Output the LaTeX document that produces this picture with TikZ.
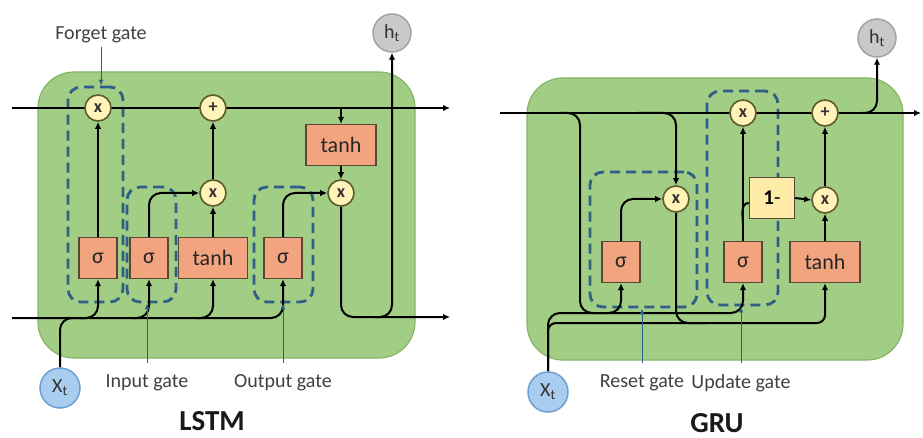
\documentclass[tikz,border=0pt]{standalone}
\usepackage{fontspec}
\setmainfont{Carlito}
\usetikzlibrary{arrows.meta}
\pgfdeclarelayer{cellbg}
\pgfdeclarelayer{wires}
\pgfsetlayers{cellbg,wires,main}
\definecolor{cellgreen}{HTML}{A1CD84}
\definecolor{cellborder}{HTML}{86B468}
\definecolor{boxfill}{HTML}{F2A47E}
\definecolor{boxborder}{HTML}{5A4636}
\definecolor{opfill}{HTML}{FFF3B8}
\definecolor{opborder}{HTML}{5C5A2E}
\definecolor{onefill}{HTML}{FFEBA8}
\definecolor{gateblue}{HTML}{2E5F86}
\definecolor{labgray}{HTML}{404040}
\definecolor{xtfill}{HTML}{A8CDEE}
\definecolor{xtborder}{HTML}{6F9FD0}
\definecolor{htfill}{HTML}{C9C9C9}
\definecolor{htborder}{HTML}{A3A3A3}
\begin{document}
\begin{tikzpicture}[x=1pt,y=-1pt,
  wire/.style={line width=2pt, black},
  arr/.style={wire, -{Latex[length=7pt,width=6.5pt]}},
  rc/.style={rounded corners=12pt},
  op/.style={circle, draw=opborder, fill=opfill, line width=1.6pt, minimum size=26pt, inner sep=0pt, font=\fontsize{18}{18}\selectfont\bfseries, text=black!80},
  actbox/.style={draw=boxborder, fill=boxfill, line width=1.3pt, inner sep=0pt, minimum height=41pt, font=\fontsize{22}{22}\selectfont, text=black!85},
  onebox/.style={draw=boxborder, fill=onefill, line width=1.3pt, inner sep=0pt, minimum height=41pt, minimum width=45pt, font=\fontsize{21}{21}\selectfont},
  gatebox/.style={draw=gateblue, line width=2.8pt, dash pattern=on 10pt off 6pt, rounded corners=13pt, inner sep=0pt},
  cellbox/.style={fill=cellgreen, draw=cellborder, line width=1.2pt, rounded corners=36pt, inner sep=0pt},
  labtext/.style={font=\fontsize{20}{22}\selectfont, text=labgray},
  titletext/.style={font=\fontsize{29}{30}\selectfont\bfseries, text=black!90, inner sep=0pt},
  labarr/.style={draw=gateblue, line width=1pt, -{Latex[length=6pt,width=5pt]}},
  xtnode/.style={circle, fill=xtfill, draw=xtborder, line width=1.5pt, minimum size=40pt, inner sep=0pt, font=\fontsize{20}{20}\selectfont, text=black!80},
  htnode/.style={circle, fill=htfill, draw=htborder, line width=1.5pt, minimum size=38pt, inner sep=0pt, font=\fontsize{20}{20}\selectfont, text=black!80}
]
\useasboundingbox (0,0) rectangle (923,438);

% ---------------- LSTM ----------------
\begin{pgfonlayer}{cellbg}
\node[cellbox, minimum width=377pt, minimum height=286pt] (lstmcell) at (226.5,215) {};
\end{pgfonlayer}

\node[op] (f1) at (98,108) {x};
\node[op] (p1) at (213,108) {+};
\node[op] (i1) at (213,193) {x};
\node[op] (o1) at (341,193) {x};
\node[actbox, minimum width=70pt] (tc1) at (341,145) {tanh};
\node[actbox, minimum width=38pt] (s1) at (98,258) {σ};
\node[actbox, minimum width=38pt] (s2) at (149,258) {σ};
\node[actbox, minimum width=69pt] (t1) at (213,258) {tanh};
\node[actbox, minimum width=38pt] (s3) at (283,258) {σ};
\node[htnode] (h1) at (392,33) {h\textsubscript{t}};
\node[xtnode] (x1) at (60,388) {X\textsubscript{t}};

\node[labtext] (l1) at (101,35) {Forget gate};
\node[labtext] (l2) at (147,383) {Input gate};
\node[labtext] (l3) at (283,383) {Output gate};
\node[titletext] (T1) at (212,421) {LSTM};

\coordinate (c1in) at (12,108);
\coordinate (c1out) at (450,108);
\coordinate (tap1) at (341,108);
\coordinate (h1in) at (12,318);
\coordinate (j0) at (84,318);
\coordinate (j1) at (80,318);
\coordinate (j2) at (132,318);
\coordinate (j3) at (196,318);
\coordinate (out1) at (450,317);
\coordinate (hb1) at (374,317);
\coordinate (a2) at ([yshift=8pt]l2.north);
\coordinate (a3) at ([yshift=8pt]l3.north);

\begin{pgfonlayer}{wires}
\node[gatebox, minimum width=55pt, minimum height=215pt] (g1) at (95.5,194.5) {};
\node[gatebox, minimum width=49pt, minimum height=115pt] (g2) at (151.5,244.5) {};
\node[gatebox, minimum width=59pt, minimum height=115pt] (g3) at (283.5,244.5) {};

\draw[arr] (c1in) -- (c1out);
\draw[arr] (tap1) -- (tc1.north);
\draw[arr] (tc1.south) -- (o1.north);
\draw[arr] (s1.north) -- (f1.south);
\draw[arr, rc] (s2.north) |- (i1.west);
\draw[arr] (t1.north) -- (i1.south);
\draw[arr] (i1.north) -- (p1.south);
\draw[arr, rc] (s3.north) |- (o1.west);
\draw[arr, rc] (o1.south) |- (out1);
\draw[arr, rc] (hb1) -| (h1.south);
\draw[arr, rc] (h1in) -| (s3.south);
\draw[arr, rc] (j1) -| (s1.south);
\draw[arr, rc] (j2) -| (s2.south);
\draw[arr, rc] (j3) -| (t1.south);
\draw[wire, rc] (x1.north) |- (j0);

\draw[labarr] (l1.south) -- (l1.south |- g1.north);
\draw[labarr] (a2) -- (a2 |- g2.south);
\draw[labarr] (a3) -- (a3 |- g3.south);
\end{pgfonlayer}

% ---------------- GRU ----------------
\begin{pgfonlayer}{cellbg}
\node[cellbox, minimum width=376pt, minimum height=282pt] (grucell) at (715,219) {};
\end{pgfonlayer}

\node[op] (z2) at (743,113) {x};
\node[op] (p2) at (825,113) {+};
\node[op] (r2) at (676,199) {x};
\node[op] (m2) at (825,200) {x};
\node[onebox] (one) at (772,198) {\textbf{1}-};
\node[actbox, minimum width=38pt] (sr) at (621,262) {σ};
\node[actbox, minimum width=38pt] (sz) at (743,262) {σ};
\node[actbox, minimum width=70pt] (t2) at (825,262) {tanh};
\node[htnode] (h2) at (877,38) {h\textsubscript{t}};
\node[xtnode] (x2) at (548,392) {X\textsubscript{t}};

\node[labtext] (l4) at (642,383) {Reset gate};
\node[labtext] (l5) at (741,383) {Update gate};
\node[titletext] (T2) at (717,423) {GRU};

\coordinate (c2in) at (500,113);
\coordinate (c2out) at (921,113);
\coordinate (tapA) at (560,113);
\coordinate (bendA) at (580,313);
\coordinate (tapB) at (638,113);
\coordinate (tapH) at (862,113);
\coordinate (zin) at (743,313);
\coordinate (tin) at (825,323);
\coordinate (lowR) at (706,323);
\coordinate (zb) at (743,226);
\coordinate (a4) at ([yshift=8pt]l4.north);
\coordinate (a5) at ([yshift=8pt]l5.north);

\begin{pgfonlayer}{wires}
\node[gatebox, minimum width=107pt, minimum height=135pt] (gr) at (643.5,239.5) {};
\node[gatebox, minimum width=71pt, minimum height=214pt] (gu) at (742.5,198) {};

\draw[arr] (c2in) -- (c2out);
\draw[arr, rc] (tapA) -| (bendA) -| (sr.south);
\draw[arr, rc] (tapB) -| (r2.north);
\draw[arr, rc] (sr.north) |- (r2.west);
\draw[arr] (sz.north) -- (z2.south);
\draw[wire] (zb) to[out=90,in=180] ([yshift=-5pt]one.west);
\draw[arr] (one.east) -- (m2.west);
\draw[arr] (t2.north) -- (m2.south);
\draw[arr] (m2.north) -- (p2.south);
\draw[arr, rc] (x2.north) |- (zin) -- (sz.south);
\draw[arr, rounded corners=8pt] (x2.north) |- (tin) -- (t2.south);
\draw[wire, rc] (r2.south) |- (lowR);
\draw[arr, rc] (tapH) -| (h2.south);

\draw[labarr] (a4) -- (a4 |- gr.south);
\draw[labarr] (a5) -- (a5 |- gu.south);
\end{pgfonlayer}
\end{tikzpicture}
\end{document}
